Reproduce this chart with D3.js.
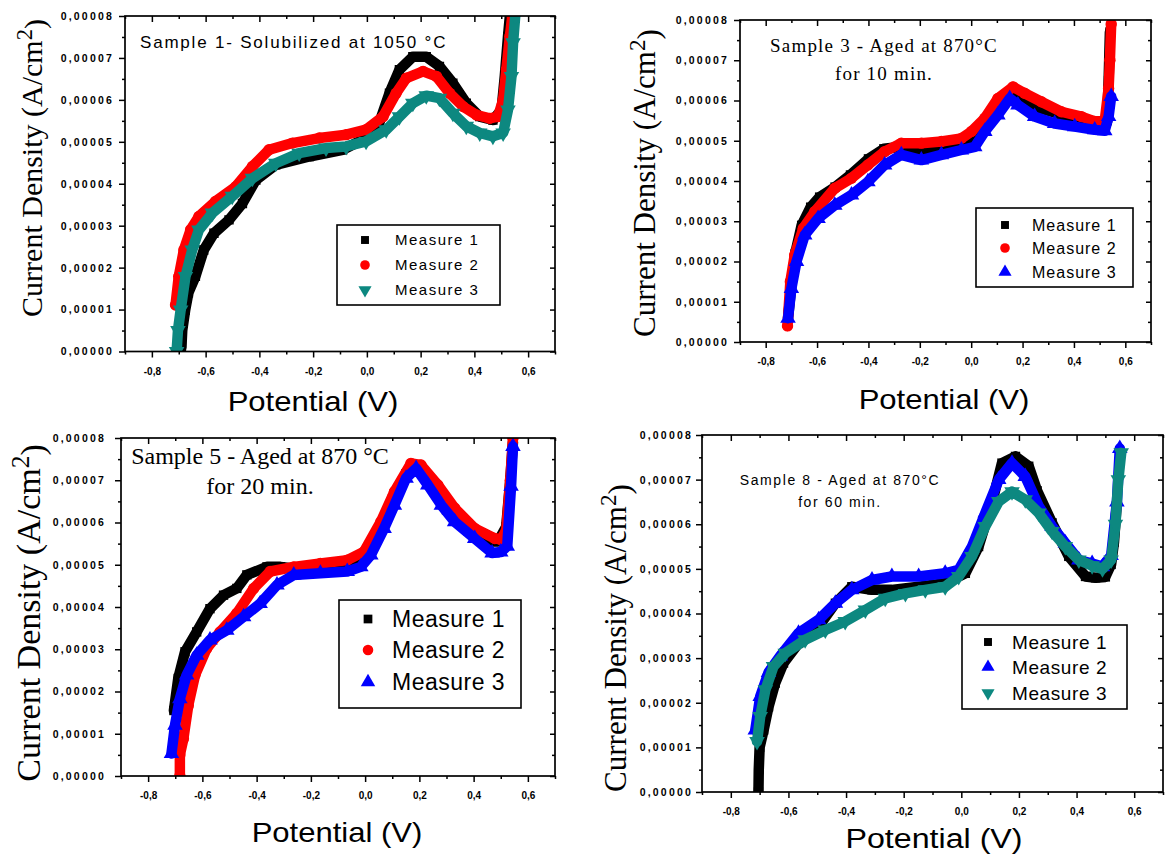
<!DOCTYPE html>
<html>
<head>
<meta charset="utf-8">
<script src="https://cdn.jsdelivr.net/npm/d3@7"></script>
<style>
  body { margin: 0; background: #fff; }
  svg text { fill: #000; }
</style>
</head>
<body>
<svg id="fig" width="1166" height="857"></svg>
<script>
// ---- axis values ----
var xDomain = [-0.9, 0.7];
var yDomain = [0, 8e-5];
var xMajor = [-0.8, -0.6, -0.4, -0.2, 0.0, 0.2, 0.4, 0.6];
var xMinor = [-0.9, -0.7, -0.5, -0.3, -0.1, 0.1, 0.3, 0.5, 0.7];
var yMajor = [0, 1e-5, 2e-5, 3e-5, 4e-5, 5e-5, 6e-5, 7e-5, 8e-5];
var yMinor = [0.5e-5, 1.5e-5, 2.5e-5, 3.5e-5, 4.5e-5, 5.5e-5, 6.5e-5, 7.5e-5];
var legendNames = ["Measure 1", "Measure 2", "Measure 3"];

// ---- data: [potential (V), current density in 1e-5 A/cm2] ----
// Sample 1 - solubilized at 1050 C
var s1m1 = [[-0.690,0.10],[-0.687,0.50],[-0.676,0.99],[-0.664,1.40],[-0.638,1.79],[-0.607,2.42],[-0.569,2.82],[-0.513,3.14],[-0.463,3.53],[-0.413,4.09],[-0.339,4.45],[-0.214,4.65],[-0.090,4.81],[-0.003,5.09],[0.046,5.45],[0.084,6.16],[0.121,6.72],[0.171,7.03],[0.221,7.03],[0.270,6.80],[0.320,6.40],[0.370,5.92],[0.420,5.60],[0.469,5.52],[0.501,5.76],[0.513,6.56],[0.525,7.51],[0.532,8.00]];
var s1m2 = [[-0.712,1.11],[-0.700,1.79],[-0.681,2.42],[-0.656,2.90],[-0.625,3.22],[-0.563,3.58],[-0.488,3.93],[-0.426,4.41],[-0.364,4.81],[-0.277,4.97],[-0.177,5.09],[-0.077,5.17],[-0.003,5.29],[0.060,5.60],[0.109,6.16],[0.147,6.52],[0.209,6.68],[0.259,6.56],[0.308,6.16],[0.358,5.84],[0.408,5.64],[0.457,5.56],[0.488,5.60],[0.507,6.00],[0.519,6.72],[0.532,7.51],[0.541,8.00]];
var s1m3 = [[-0.708,0.00],[-0.703,0.50],[-0.693,0.99],[-0.675,1.79],[-0.650,2.42],[-0.625,2.90],[-0.575,3.30],[-0.501,3.70],[-0.426,4.13],[-0.339,4.49],[-0.252,4.73],[-0.152,4.85],[-0.077,4.89],[-0.003,5.01],[0.072,5.29],[0.121,5.60],[0.171,5.92],[0.221,6.10],[0.270,6.04],[0.320,5.68],[0.370,5.37],[0.420,5.21],[0.469,5.13],[0.507,5.21],[0.525,5.76],[0.538,6.56],[0.544,7.36],[0.552,8.00]];

// Sample 3 - aged 870 C, 10 min
var s3m1 = [[-0.713,0.60],[-0.700,1.40],[-0.685,2.20],[-0.660,2.90],[-0.625,3.35],[-0.590,3.60],[-0.530,3.85],[-0.470,4.15],[-0.400,4.55],[-0.340,4.80],[-0.270,4.85],[-0.190,4.70],[-0.120,4.75],[-0.040,4.90],[0.010,5.05],[0.050,5.40],[0.100,5.90],[0.160,6.15],[0.210,6.00],[0.270,5.80],[0.350,5.65],[0.430,5.55],[0.500,5.45],[0.530,5.50],[0.535,6.50],[0.540,7.70]];
var s3m2 = [[-0.715,0.40],[-0.704,1.50],[-0.687,2.16],[-0.654,2.82],[-0.609,3.24],[-0.531,3.82],[-0.466,4.07],[-0.402,4.40],[-0.337,4.73],[-0.272,4.94],[-0.194,4.94],[-0.116,4.98],[-0.038,5.06],[0.001,5.23],[0.053,5.56],[0.104,6.05],[0.163,6.34],[0.208,6.18],[0.273,5.97],[0.351,5.72],[0.429,5.60],[0.481,5.48],[0.520,5.50],[0.535,6.30],[0.540,7.00],[0.545,7.90]];
var s3m3 = [[-0.713,0.59],[-0.700,1.33],[-0.680,2.00],[-0.648,2.66],[-0.596,3.07],[-0.531,3.40],[-0.466,3.65],[-0.402,3.98],[-0.337,4.40],[-0.272,4.65],[-0.194,4.52],[-0.116,4.65],[-0.038,4.77],[0.014,4.85],[0.053,5.23],[0.104,5.64],[0.150,6.05],[0.182,5.89],[0.247,5.60],[0.325,5.43],[0.403,5.35],[0.481,5.27],[0.520,5.25],[0.535,5.60],[0.545,6.10]];

// Sample 5 - aged 870 C, 20 min
var s5m1 = [[-0.705,1.55],[-0.689,2.31],[-0.664,2.94],[-0.621,3.41],[-0.572,3.96],[-0.522,4.28],[-0.473,4.44],[-0.436,4.76],[-0.362,4.95],[-0.312,4.95],[-0.250,4.90],[-0.150,4.85],[-0.050,4.95],[0.000,5.20],[0.050,5.80],[0.100,6.55],[0.150,7.15],[0.190,7.30],[0.240,6.90],[0.300,6.30],[0.380,5.80],[0.450,5.55],[0.490,5.55],[0.520,5.90],[0.535,7.00],[0.545,7.90]];
var s5m2 = [[-0.683,0.00],[-0.683,0.50],[-0.670,0.88],[-0.652,1.67],[-0.627,2.39],[-0.584,3.02],[-0.535,3.41],[-0.473,3.85],[-0.411,4.44],[-0.350,4.84],[-0.263,4.95],[-0.165,5.03],[-0.066,5.11],[-0.004,5.31],[0.058,6.02],[0.108,6.73],[0.169,7.40],[0.206,7.36],[0.268,6.89],[0.330,6.34],[0.404,5.86],[0.478,5.62],[0.500,5.60],[0.520,5.80],[0.535,7.00],[0.545,8.00]];
var s5m3 = [[-0.714,0.53],[-0.701,1.20],[-0.683,1.83],[-0.658,2.39],[-0.621,2.86],[-0.572,3.22],[-0.510,3.45],[-0.448,3.77],[-0.387,4.08],[-0.325,4.52],[-0.263,4.76],[-0.165,4.80],[-0.066,4.84],[-0.016,4.95],[0.021,5.23],[0.070,5.86],[0.108,6.41],[0.151,7.05],[0.188,7.28],[0.231,6.89],[0.281,6.41],[0.330,6.02],[0.404,5.62],[0.468,5.28],[0.500,5.30],[0.524,5.44],[0.538,6.86],[0.545,7.80]];

// Sample 8 - aged 870 C, 60 min
var s8m1 = [[-0.704,0.00],[-0.703,0.50],[-0.700,1.00],[-0.686,1.39],[-0.669,1.91],[-0.646,2.44],[-0.617,2.89],[-0.565,3.33],[-0.495,3.71],[-0.437,4.23],[-0.380,4.60],[-0.310,4.53],[-0.241,4.53],[-0.148,4.60],[-0.056,4.68],[0.014,4.90],[0.060,5.50],[0.106,6.47],[0.141,7.37],[0.188,7.52],[0.234,7.30],[0.263,6.75],[0.315,6.03],[0.373,5.28],[0.431,4.83],[0.466,4.80],[0.500,4.82],[0.520,5.10],[0.530,5.60],[0.540,6.50]];
var s8m2 = [[-0.715,1.39],[-0.698,2.14],[-0.669,2.68],[-0.628,3.05],[-0.565,3.56],[-0.495,3.86],[-0.437,4.23],[-0.380,4.53],[-0.310,4.75],[-0.241,4.83],[-0.148,4.83],[-0.056,4.90],[-0.009,4.98],[0.037,5.50],[0.083,6.25],[0.130,7.00],[0.176,7.37],[0.222,7.07],[0.269,6.40],[0.315,5.95],[0.361,5.58],[0.408,5.20],[0.454,5.12],[0.490,5.05],[0.520,5.30],[0.540,6.50],[0.550,7.70]];
var s8m3 = [[-0.709,1.13],[-0.698,1.69],[-0.680,2.29],[-0.652,2.81],[-0.611,3.11],[-0.542,3.41],[-0.472,3.63],[-0.403,3.82],[-0.333,4.08],[-0.264,4.34],[-0.194,4.45],[-0.125,4.53],[-0.056,4.60],[-0.009,4.83],[0.037,5.28],[0.083,5.95],[0.130,6.51],[0.176,6.73],[0.222,6.55],[0.269,6.25],[0.315,5.84],[0.361,5.50],[0.408,5.20],[0.454,5.07],[0.490,5.00],[0.520,5.20],[0.535,6.00],[0.545,7.00],[0.555,7.60]];

// ---- marker colours ----
var BLACK = "#000000", RED = "#ff0000", BLUE = "#0000ff", TEAL = "#0d8880";

var panels = [
  { frame: {l: 125, r: 555, t: 16, b: 351.5},
    series: [{d: s1m1, c: BLACK, s: "square"}, {d: s1m2, c: RED, s: "circle"}, {d: s1m3, c: TEAL, s: "down"}],
    title: {lines: ["Sample 1- Solubilized at 1050 °C"], font: "Arial, 'Liberation Sans', sans-serif", size: 17, x: 140, y: [48], anchor: "start", ls: 1.8},
    legend: {x: 337, y: 225, w: 163, h: 80, rows: [240, 265, 290], mx: 365, tx: 395, size: 15, ls: 1.5, ms: 1},
    ylab: {x: 42, y: 168, size: 30}, xlab: {x: 313, y: 411, size: 27},
    ytx: 114 },
  { frame: {l: 740, r: 1151, t: 20, b: 342},
    series: [{d: s3m1, c: BLACK, s: "square"}, {d: s3m2, c: RED, s: "circle"}, {d: s3m3, c: BLUE, s: "up"}],
    title: {lines: ["Sample 3 - Aged at 870°C", "for 10 min."], font: "'Times New Roman', 'Liberation Serif', serif", size: 19, x: 884, y: [52, 80], anchor: "middle", ls: 1.2},
    legend: {x: 976, y: 208, w: 157, h: 79, rows: [225, 248, 272], mx: 1005, tx: 1032, size: 16, ls: 1, ms: 1},
    ylab: {x: 655, y: 183, size: 31}, xlab: {x: 944, y: 409, size: 27},
    ytx: 729 },
  { frame: {l: 121, r: 555, t: 438, b: 776},
    series: [{d: s5m1, c: BLACK, s: "square"}, {d: s5m2, c: RED, s: "circle"}, {d: s5m3, c: BLUE, s: "up"}],
    title: {lines: ["Sample 5 - Aged at 870 °C", "for 20 min."], font: "'Times New Roman', 'Liberation Serif', serif", size: 24, x: 260, y: [464, 494], anchor: "middle", ls: 0},
    legend: {x: 339, y: 600, w: 182, h: 108, rows: [619, 650, 682], mx: 368, tx: 392, size: 23, ls: 0.5, ms: 1.1},
    ylab: {x: 40, y: 613, size: 34}, xlab: {x: 337, y: 842, size: 27},
    ytx: 106 },
  { frame: {l: 702, r: 1163, t: 435, b: 792},
    series: [{d: s8m1, c: BLACK, s: "square"}, {d: s8m2, c: BLUE, s: "up"}, {d: s8m3, c: TEAL, s: "down"}],
    title: {lines: ["Sample 8 - Aged at 870°C", "for 60 min."], font: "Arial, 'Liberation Sans', sans-serif", size: 14, x: 840, y: [485, 507], anchor: "middle", ls: 1.6},
    legend: {x: 962, y: 625, w: 165, h: 84, rows: [642, 667, 693], mx: 988, tx: 1012, size: 19, ls: 0.6, ms: 1},
    ylab: {x: 626, y: 638, size: 31}, xlab: {x: 934, y: 848, size: 28},
    ytx: 693 }
];

var loc = d3.formatLocale({decimal: ",", thousands: ".", grouping: [3], currency: ["", ""], minus: "-"});
var fmtX = loc.format(".1f"), fmtY = loc.format(".5f");

function symbolPath(shape, k) {
  if (shape === "square") return d3.symbol().type(d3.symbolSquare).size(52 * k * k)();
  if (shape === "circle") return d3.symbol().type(d3.symbolCircle).size(60 * k * k)();
  return d3.symbol().type(d3.symbolTriangle).size(62 * k * k)();
}

var svg = d3.select("#fig");
svg.append("rect").attr("width", 1166).attr("height", 857).attr("fill", "#fff");

panels.forEach(function(p, i) {
  var f = p.frame;
  var x = d3.scaleLinear().domain(xDomain).range([f.l, f.r]);
  var y = d3.scaleLinear().domain(yDomain).range([f.b, f.t]);
  var g = svg.append("g");

  // clip to plot area
  var cid = "clip" + i;
  svg.append("clipPath").attr("id", cid).append("rect")
    .attr("x", f.l).attr("y", f.t).attr("width", f.r - f.l).attr("height", f.b - f.t);

  var plot = g.append("g").attr("clip-path", "url(#" + cid + ")");
  var line = d3.line().x(function(d) { return x(d[0]); }).y(function(d) { return y(d[1] * 1e-5); });

  p.series.forEach(function(s) {
    plot.append("path").datum(s.d)
      .attr("d", line).attr("fill", "none").attr("stroke", s.c)
      .attr("stroke-width", 10.5).attr("stroke-linejoin", "round").attr("stroke-linecap", "round");
    plot.selectAll(null).data(s.d).enter().append("path")
      .attr("d", symbolPath(s.s, 1.3))
      .attr("transform", function(d) { return "translate(" + x(d[0]) + "," + y(d[1] * 1e-5) + ")" + (s.s === "down" ? " rotate(180)" : ""); })
      .attr("fill", s.c);
  });

  // axes: bottom & left outward, top & right inward
  var tickFont = "Arial, 'Liberation Sans', sans-serif";
  var bx = g.append("g").attr("transform", "translate(0," + f.b + ")")
    .call(d3.axisBottom(x).tickValues(xMajor).tickSize(6).tickPadding(10).tickFormat(fmtX));
  bx.selectAll("text").style("font", "bold 10px " + tickFont).attr("fill", "#222");
  g.append("g").attr("transform", "translate(0," + f.b + ")")
    .call(d3.axisBottom(x).tickValues(xMinor).tickSize(3).tickFormat(""));
  g.append("g").attr("transform", "translate(0," + f.t + ")")
    .call(d3.axisBottom(x).tickValues(xMajor).tickSize(6).tickFormat(""));
  g.append("g").attr("transform", "translate(0," + f.t + ")")
    .call(d3.axisBottom(x).tickValues(xMinor).tickSize(3).tickFormat(""));

  var ly = g.append("g").attr("transform", "translate(" + f.l + ",0)")
    .call(d3.axisLeft(y).tickValues(yMajor).tickSize(6).tickPadding(f.l - p.ytx - 6).tickFormat(fmtY));
  ly.selectAll("text").style("font", "bold 10.5px " + tickFont).style("letter-spacing", "2.2px").attr("fill", "#222");
  g.append("g").attr("transform", "translate(" + f.l + ",0)")
    .call(d3.axisLeft(y).tickValues(yMinor).tickSize(3).tickFormat(""));
  g.append("g").attr("transform", "translate(" + f.r + ",0)")
    .call(d3.axisLeft(y).tickValues(yMajor).tickSize(5).tickFormat(""));
  g.append("g").attr("transform", "translate(" + f.r + ",0)")
    .call(d3.axisLeft(y).tickValues(yMinor).tickSize(3).tickFormat(""));
  g.selectAll(".domain").remove();
  g.selectAll(".tick line").attr("stroke", "#000").attr("stroke-width", 1.5);

  g.append("rect").attr("x", f.l).attr("y", f.t).attr("width", f.r - f.l).attr("height", f.b - f.t)
    .attr("fill", "none").attr("stroke", "#000").attr("stroke-width", 1.7);

  // title
  var t = p.title;
  t.lines.forEach(function(txt, k) {
    g.append("text").attr("x", t.x).attr("y", t.y[k]).attr("text-anchor", t.anchor)
      .style("font-family", t.font).style("font-size", t.size + "px").style("letter-spacing", t.ls + "px")
      .text(txt);
  });

  // legend
  var L = p.legend;
  var lg = g.append("g");
  lg.append("rect").attr("x", L.x).attr("y", L.y).attr("width", L.w).attr("height", L.h)
    .attr("fill", "#fff").attr("stroke", "#000").attr("stroke-width", 1.6);
  p.series.forEach(function(s, k) {
    lg.append("path").attr("d", symbolPath(s.s, L.ms * 1.1))
      .attr("transform", "translate(" + L.mx + "," + L.rows[k] + ")" + (s.s === "down" ? " rotate(180)" : ""))
      .attr("fill", s.c);
    lg.append("text").attr("x", L.tx).attr("y", L.rows[k]).attr("dy", "0.36em")
      .style("font-family", "Arial, 'Liberation Sans', sans-serif").style("font-size", L.size + "px")
      .style("letter-spacing", L.ls + "px").text(legendNames[k]);
  });

  // axis titles
  var yl = g.append("text").attr("text-anchor", "middle")
    .attr("transform", "translate(" + p.ylab.x + "," + p.ylab.y + ") rotate(-90)")
    .style("font-family", "'Times New Roman', 'Liberation Serif', serif").style("font-size", p.ylab.size + "px");
  yl.append("tspan").text("Current Density (A/cm");
  yl.append("tspan").attr("dy", "-0.45em").style("font-size", "0.75em").text("2");
  yl.append("tspan").attr("dy", "0.45em").text(")");

  g.append("text").attr("text-anchor", "middle")
    .attr("transform", "translate(" + p.xlab.x + "," + p.xlab.y + ") scale(1.15,1)")
    .style("font-family", "Arial, 'Liberation Sans', sans-serif").style("font-size", p.xlab.size + "px")
    .text("Potential (V)");
});
</script>
</body>
</html>
